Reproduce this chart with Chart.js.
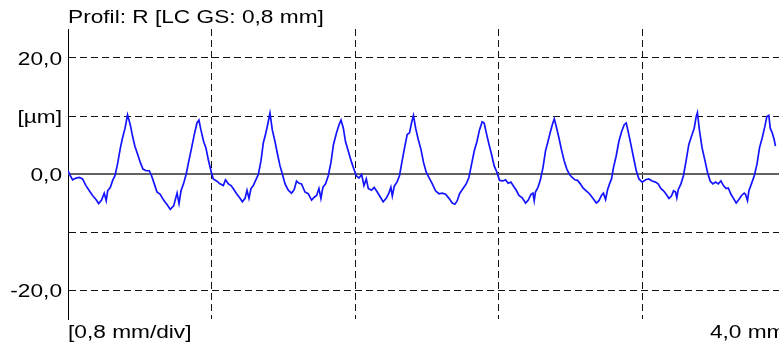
<!DOCTYPE html>
<html>
<head>
<meta charset="utf-8">
<script src="https://cdn.jsdelivr.net/npm/chart.js@4.4.0/dist/chart.umd.min.js"></script>
<style>
  html, body { margin: 0; padding: 0; background: #fff; overflow: hidden; }
  #wrap { width: 779px; height: 349px; overflow: hidden; }
</style>
</head>
<body>
<div id="wrap"><canvas id="profil" width="800" height="349"></canvas></div>
<script>
// profile position [mm] and height [µm]
const profileX = [
  0.000, 0.013, 0.026, 0.045, 0.063, 0.081, 0.100, 0.119, 0.137, 0.156, 0.171, 0.187, 0.202, 0.213, 0.221, 0.236, 0.249, 0.262,
  0.276, 0.292, 0.304, 0.318, 0.332, 0.347, 0.360, 0.373, 0.388, 0.403, 0.418, 0.435, 0.453, 0.466, 0.481, 0.496, 0.514, 0.533,
  0.555, 0.570, 0.589, 0.608, 0.619, 0.630, 0.644, 0.659, 0.674, 0.689, 0.704, 0.719, 0.730, 0.741, 0.756, 0.769, 0.782, 0.799,
  0.810, 0.828, 0.847, 0.866, 0.878, 0.894, 0.909, 0.921, 0.940, 0.959, 0.972, 0.987, 0.998, 1.009, 1.020, 1.033, 1.046, 1.061,
  1.076, 1.089, 1.101, 1.113, 1.126, 1.139, 1.154, 1.168, 1.182, 1.195, 1.210, 1.228, 1.246, 1.261, 1.274, 1.288, 1.302, 1.321,
  1.339, 1.358, 1.373, 1.386, 1.399, 1.410, 1.421, 1.436, 1.451, 1.466, 1.480, 1.497, 1.511, 1.522, 1.535, 1.547, 1.562, 1.581, 1.600,
  1.607, 1.622, 1.637, 1.650, 1.663, 1.674, 1.692, 1.707, 1.724, 1.742, 1.757, 1.774, 1.789, 1.800, 1.808, 1.819, 1.834, 1.848,
  1.863, 1.878, 1.891, 1.904, 1.915, 1.926, 1.938, 1.953, 1.968, 1.982, 1.997, 2.012, 2.031, 2.049, 2.068, 2.086, 2.105, 2.124,
  2.142, 2.157, 2.170, 2.183, 2.194, 2.207, 2.220, 2.235, 2.250, 2.265, 2.280, 2.294, 2.309, 2.320, 2.332, 2.347, 2.361, 2.376, 2.391,
  2.406, 2.425, 2.439, 2.454, 2.469, 2.484, 2.499, 2.514, 2.532, 2.551, 2.566, 2.581, 2.592, 2.599, 2.606, 2.620, 2.633, 2.648,
  2.662, 2.676, 2.688, 2.700, 2.711, 2.722, 2.737, 2.751, 2.766, 2.781, 2.796, 2.811, 2.826, 2.841, 2.856, 2.871, 2.889, 2.907,
  2.926, 2.945, 2.960, 2.974, 2.985, 2.997, 3.008, 3.019, 3.030, 3.041, 3.056, 3.071, 3.086, 3.101, 3.112, 3.123, 3.138, 3.153, 3.168, 3.183,
  3.201, 3.220, 3.238, 3.257, 3.275, 3.290, 3.305, 3.320, 3.335, 3.350, 3.364, 3.376, 3.387, 3.394, 3.402, 3.417, 3.431, 3.446,
  3.461, 3.476, 3.491, 3.502, 3.509, 3.520, 3.535, 3.551, 3.565, 3.580, 3.595, 3.610, 3.625, 3.640, 3.654, 3.669, 3.681, 3.696,
  3.710, 3.725, 3.740, 3.755, 3.770, 3.777, 3.788, 3.796, 3.810, 3.826, 3.841, 3.855, 3.870, 3.885, 3.896, 3.907, 3.915, 3.926, 3.937, 3.944
];
const profileY = [
  0.6, -0.3, -1.0, -0.7, -0.6, -0.85, -2.0, -2.9, -3.7, -4.4, -5.1, -4.5, -3.3, -4.6, -2.9, -2.3, -1.1, -0.3,
  1.7, 4.5, 6.2, 7.9, 10.2, 8.5, 6.5, 4.8, 3.4, 2.0, 0.85, 0.56, 0.56, -0.3, -1.7, -3.1, -3.5, -4.5,
  -5.4, -6.1, -5.5, -3.3, -5.1, -2.9, -1.7, 0, 2.3, 4.5, 6.8, 8.8, 9.3, 7.6, 5.6, 4.5, 2.5, 0.3,
  -0.85, -1.2, -1.7, -2.0, -1.0, -1.7, -2.0, -2.5, -3.4, -4.2, -4.8, -4.2, -2.8, -4.2, -2.5, -2.0, -1.1, -0.1,
  2.3, 5.4, 6.8, 8.5, 10.5, 7.6, 5.6, 3.4, 1.4, 0, -1.7, -2.8, -3.3, -2.7, -1.2, -1.6, -1.7, -3.1,
  -3.4, -4.5, -4.0, -3.7, -2.5, -4.2, -2.3, -1.7, -0.3, 2.0, 5.1, 7.1, 8.5, 9.3, 7.9, 5.6, 4.0, 2.0, 0.3,
  -0.3, -0.7, -0.1, -2.0, -0.85, -2.5, -2.8, -2.3, -3.1, -4.0, -4.8, -4.2, -3.3, -2.3, -3.8, -2.1, -1.4, -0.3,
  2.3, 4.8, 6.8, 7.1, 8.8, 10.1, 7.9, 5.9, 4.2, 2.0, 0.3, -0.6, -1.7, -2.9, -3.4, -3.3, -3.5, -4.2,
  -5.0, -5.2, -4.6, -3.4, -2.9, -2.3, -1.7, -0.6, 1.7, 4.0, 5.6, 7.6, 9.0, 8.8, 7.1, 5.1, 3.4, 1.4, 0.3,
  -1.1, -1.2, -1.0, -1.6, -1.4, -2.1, -2.8, -3.7, -4.1, -5.0, -4.5, -3.5, -3.3, -4.6, -3.1, -2.3, -1.1, 1.1,
  4.0, 5.6, 7.1, 8.5, 9.5, 8.2, 6.2, 4.2, 2.3, 0.85, -0.1, -0.6, -1.0, -1.1, -1.7, -2.4, -2.9, -3.4,
  -4.2, -5.0, -4.6, -3.7, -3.3, -4.4, -2.7, -1.7, -0.85, 1.1, 3.1, 5.6, 7.3, 8.5, 8.8, 7.3, 5.1, 2.8, 0.56, -0.85,
  -1.4, -1.0, -0.85, -1.2, -1.4, -1.7, -2.5, -2.9, -3.5, -4.2, -3.8, -2.9, -3.1, -4.1, -2.7, -1.7, -0.3, 2.3,
  5.1, 6.5, 7.9, 9.9, 10.6, 7.6, 4.5, 2.3, 0.3, -1.2, -1.7, -1.4, -1.7, -1.2, -2.0, -2.5, -2.4, -3.5,
  -4.2, -5.0, -4.4, -3.7, -3.3, -3.5, -4.6, -2.9, -1.7, -0.3, 1.7, 4.5, 6.2, 8.2, 9.9, 10.1, 7.9, 7.1, 5.9, 4.8
];
const yTicks = [-20, -10, 0, 10, 20];
const yTickLabels = ["-20,0", "", "0,0", "[µm]", "20,0"];
const xTicks = [0, 0.8, 1.6, 2.4, 3.2, 4.0];
const titleText = "Profil: R [LC GS: 0,8 mm]";
const xLabelLeft = "[0,8 mm/div]";
const xLabelRight = "4,0 mm";

// texts are a little wider than Arial in the original, so stretch them
const textPlugin = {
  id: "texte",
  afterDraw(chart) {
    const ctx = chart.ctx;
    const area = chart.chartArea;
    const yScale = chart.scales.y;
    const put = (txt, x, y, align) => {
      ctx.save();
      ctx.translate(x, y);
      ctx.scale(1.26, 1);
      ctx.font = "18px 'Liberation Sans', Arial, sans-serif";
      ctx.fillStyle = "#000";
      ctx.textAlign = align;
      ctx.textBaseline = "alphabetic";
      ctx.fillText(txt, 0, 0);
      ctx.restore();
    };
    put(titleText, area.left, 23, "left");
    yTicks.forEach((v, i) => {
      if (yTickLabels[i]) put(yTickLabels[i], area.left - 6, yScale.getPixelForValue(v) + 6.5, "right");
    });
    put(xLabelLeft, area.left, 338, "left");
    put(xLabelRight, area.right, 338, "right");
  }
};

const gridColor = (c) => (c.tick && c.tick.value === 0 ? "transparent" : "#111");

new Chart(document.getElementById("profil"), {
  type: "line",
  data: {
    datasets: [
      {
        label: "R",
        data: profileX.map((x, i) => ({ x: x, y: profileY[i] })),
        borderColor: "rgb(20, 20, 255)",
        borderWidth: 1.7,
        pointRadius: 0,
        tension: 0,
        order: 1,
      },
      {
        label: "Nulllinie",
        data: [{ x: 0, y: 0 }, { x: 4, y: 0 }],
        borderColor: "#626262",
        borderWidth: 2,
        pointRadius: 0,
        order: 2,
      },
    ],
  },
  options: {
    responsive: false,
    animation: false,
    devicePixelRatio: 1,
    layout: { padding: { top: 29, right: 14.5, left: 0, bottom: 0 } },
    plugins: { legend: { display: false }, tooltip: { enabled: false }, title: { display: false } },
    scales: {
      x: {
        type: "linear",
        min: 0,
        max: 4,
        afterBuildTicks: (s) => { s.ticks = xTicks.map((v) => ({ value: v })); },
        afterFit: (s) => { s.height = 30; },
        ticks: { display: false },
        grid: { color: gridColor, lineWidth: 1, drawTicks: false },
        border: { display: false, dash: [7, 4] },
      },
      y: {
        type: "linear",
        min: -25,
        max: 25,
        afterBuildTicks: (s) => { s.ticks = yTicks.map((v) => ({ value: v })); },
        afterFit: (s) => { s.width = 68; },
        ticks: { display: false },
        grid: { color: gridColor, lineWidth: 1, drawTicks: false },
        border: { display: true, color: "#000", width: 1, dash: [7, 4] },
      },
    },
  },
  plugins: [textPlugin],
});
</script>
</body>
</html>
